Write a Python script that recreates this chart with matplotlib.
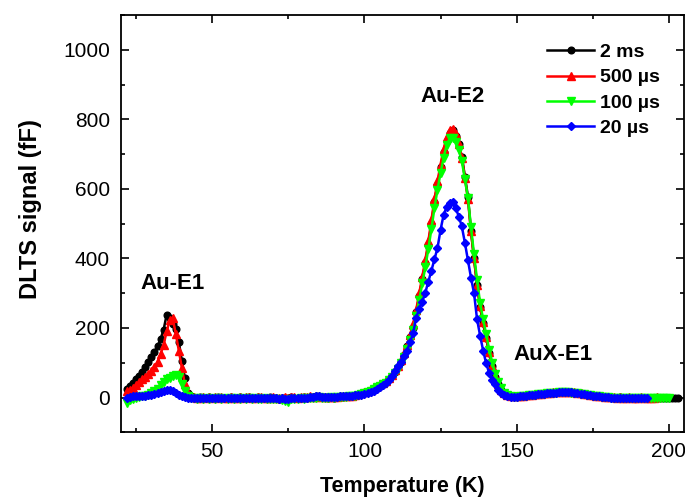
import matplotlib
matplotlib.use("Agg")
import matplotlib.pyplot as plt
from matplotlib.ticker import MultipleLocator

plt.rcParams['font.family'] = ['Liberation Sans', 'DejaVu Sans']

# ---------------- data ----------------
temps = [22, 23, 24, 25, 26, 27, 28, 29,
         30, 31, 32, 33, 34, 35, 36, 37, 38, 39,
         40, 41, 42, 43, 44, 45, 46, 47, 48, 49,
         50, 51, 52, 53, 54, 55, 56, 57, 58, 59,
         60, 61, 62, 63, 64, 65, 66, 67, 68, 69,
         70, 71, 72, 73, 74, 75, 76, 77, 78, 79,
         80, 81, 82, 83, 84, 85, 86, 87, 88, 89,
         90, 91, 92, 93, 94, 95, 96, 97, 98, 99,
         100, 101, 102, 103, 104, 105, 106, 107, 108, 109,
         110, 111, 112, 113, 114, 115, 116, 117, 118, 119,
         120, 121, 122, 123, 124, 125, 126, 127, 128, 129,
         130, 131, 132, 133, 134, 135, 136, 137, 138, 139,
         140, 141, 142, 143, 144, 145, 146, 147, 148, 149,
         150, 151, 152, 153, 154, 155, 156, 157, 158, 159,
         160, 161, 162, 163, 164, 165, 166, 167, 168, 169,
         170, 171, 172, 173, 174, 175, 176, 177, 178, 179,
         180, 181, 182, 183, 184, 185, 186, 187, 188, 189,
         190, 191, 192, 193, 194, 195, 196, 197, 198, 199,
         200, 201, 202, 203]

sig_2ms = [25, 32, 42, 52, 62, 74, 87, 101,
           117, 132, 147, 168, 195, 238, 228, 212, 196, 160,
           105, 55, 14, 3, 0, -2, 1, 0, -1, 2,
           0, -1, 1, 0, -2, 0, 1, -1, 0, 1,
           -1, 0, 2, 0, -1, 1, 0, -2, 0, 1,
           0, -1, -3, -2, 0, -1, 1, 0, -1, 0,
           1, 0, 2, 1, 3, 2, 1, 2, 0, 1,
           0, 1, 2, 2, 3, 3, 4, 5, 8, 11,
           14, 17, 21, 26, 31, 36, 40, 45, 52, 62,
           74, 87, 102, 122, 148, 173, 200, 245, 293, 340,
           386, 440, 500, 563, 612, 662, 705, 738, 762, 768,
           752, 728, 693, 635, 578, 480, 400, 325, 260, 213,
           170, 128, 90, 60, 38, 21, 11, 6, 4, 3,
           3, 4, 5, 5, 6, 7, 8, 9, 10, 11,
           12, 13, 14, 15, 15, 16, 16, 16, 15, 14,
           13, 12, 10, 8, 7, 5, 4, 3, 2, 2,
           1, 1, 0, 0, 1, 0, -1, 0, 0, -1,
           0, 0, -1, 0, 0, -1, 0, 0, -1, 0,
           0, 0, -1, 0]

sig_500us = [18, 22, 28, 37, 45, 53, 60, 67,
             75, 88, 103, 125, 152, 190, 222, 228, 183, 135,
             85, 38, 12, 3, 1, 0, -1, 2, 0, 1,
             -1, 2, 0, 1, -1, 0, 2, 0, -1, 1,
             0, 2, 1, -1, 0, 1, 2, 0, -1, 0,
             1, 0, -2, -1, 1, 0, 2, 1, 0, 1,
             2, 1, 3, 2, 2, 3, 1, 2, 1, 2,
             1, 2, 3, 3, 4, 4, 5, 7, 9, 12,
             15, 19, 23, 28, 33, 38, 43, 48, 55, 65,
             78, 92, 108, 128, 152, 180, 210, 252, 300, 348,
             395, 450, 510, 570, 622, 670, 715, 748, 770, 772,
             758, 730, 690, 632, 570, 478, 400, 325, 262, 218,
             175, 130, 92, 62, 40, 22, 12, 6, 4, 3,
             4, 4, 5, 6, 7, 8, 9, 10, 11, 12,
             13, 14, 15, 16, 16, 17, 17, 16, 16, 15,
             14, 12, 11, 9, 7, 6, 4, 3, 3, 2,
             2, 1, 1, 0, 1, 0, 0, 1, 0, -1,
             0, 1, 0, 0, -1, 0, 1]

sig_100us = [-15, -8, -3, 0, 2, 3, 5, 8,
             12, 18, 25, 35, 44, 52, 57, 62, 66, 60,
             40, 18, 5, 0, -2, -3, -1, -4, -2, -3,
             -2, -4, -1, -3, -2, -5, -1, -3, -2, -4,
             -2, -3, -1, -4, -2, -3, -5, -2, -3, -4,
             -3, -5, -4, -6, -10, -12, -5, -3, -4, -2,
             -3, -1, -2, 0, -1, 1, 0, -1, 0, 1,
             0, 1, 1, 2, 2, 3, 4, 5, 7, 10,
             13, 16, 20, 24, 29, 33, 38, 43, 49, 58,
             70, 83, 98, 117, 140, 166, 195, 235, 280, 328,
             375, 428, 485, 545, 598, 645, 690, 725, 745, 746,
             735, 712, 680, 628, 575, 490, 412, 338, 272, 225,
             182, 138, 100, 68, 44, 26, 14, 7, 4, 2,
             2, 3, 4, 5, 6, 7, 8, 9, 10, 11,
             12, 13, 13, 14, 15, 15, 15, 15, 14, 13,
             12, 11, 9, 8, 6, 5, 4, 3, 2, 1,
             1, 0, 0, -1, 0, -1, -1, 0, -1, -2,
             -1, -1, 0, -1, -2, -1, -1, 0, -1, -1,
             -1]

sig_20us = [0, 2, 3, 4, 3, 4, 5, 6,
            8, 10, 13, 17, 20, 22, 23, 20, 14, 8,
            4, 2, 0, -1, 0, -2, -1, 0, -2, -1,
            0, -1, -2, 0, -1, -2, 0, -1, 0, -2,
            -1, 0, -2, -1, 0, -1, -2, -1, 0, -2,
            -1, -2, -3, -2, -4, -3, -2, -1, -2, -1,
            0, -1, 1, 2, 4, 3, 2, 1, 2, 1,
            2, 2, 3, 3, 4, 5, 5, 6, 7, 8,
            10, 13, 16, 20, 24, 29, 35, 42, 50, 63,
            77, 90, 103, 118, 135, 160, 185, 230, 255, 275,
            302, 333, 365, 398, 430, 482, 525, 548, 560, 562,
            545, 520, 492, 445, 395, 345, 300, 225, 178, 135,
            98, 70, 50, 38, 22, 12, 7, 4, 2, 1,
            2, 3, 4, 5, 6, 7, 8, 9, 10, 11,
            12, 13, 14, 14, 15, 15, 16, 15, 15, 14,
            13, 11, 10, 8, 6, 5, 4, 3, 2, 1,
            1, 0, 0, -1, 0, -1, -1, 0, -1, -1,
            0, -1, -1, 0]

series_labels = ["2 ms", "500 \u00b5s", "100 \u00b5s", "20 \u00b5s"]
peak_labels = ["Au-E1", "Au-E2", "AuX-E1"]
peak_pos = [(37.0, 328), (128.8, 867), (161.9, 124)]

# ---------------- figure ----------------
fig = plt.figure(figsize=(6.85, 4.97), dpi=100)
ax = fig.add_axes([121 / 685, 1 - 432.3 / 497, (684 - 121) / 685, (432.3 - 15) / 497])

styles = [
    dict(color="black", marker="o", ms=4.8),
    dict(color="red", marker="^", ms=5.6),
    dict(color=(0.0, 1.0, 0.0), marker="v", ms=5.6),
    dict(color="blue", marker="D", ms=4.4),
]
all_sig = [sig_2ms, sig_500us, sig_100us, sig_20us]
for sig, lab, st in zip(all_sig, series_labels, styles):
    ax.plot(temps[:len(sig)], sig, label=lab, lw=1.8,
            color=st["color"], marker=st["marker"], ms=st["ms"],
            mec=st["color"], mfc=st["color"])

ax.set_xlim(20, 205)
ax.set_ylim(-100, 1100)
ax.xaxis.set_major_locator(MultipleLocator(50))
ax.xaxis.set_minor_locator(MultipleLocator(25))
ax.yaxis.set_major_locator(MultipleLocator(200))
ax.yaxis.set_minor_locator(MultipleLocator(100))
ax.tick_params(which="both", direction="in", top=True, right=True, width=1.2)
ax.tick_params(which="major", length=6, labelsize=15, pad=8)
ax.tick_params(which="minor", length=3)
ax.tick_params(axis="x", which="major", pad=7)
for s in ax.spines.values():
    s.set_linewidth(1.3)

ax.set_xlabel("Temperature (K)", fontsize=15.5, fontweight="bold", labelpad=11)
ax.set_ylabel("DLTS signal (fF)", fontsize=17, fontweight="bold")
ax.yaxis.set_label_coords(-0.14, 0.535)

for txt, (x, y) in zip(peak_labels, peak_pos):
    ax.text(x, y, txt, fontsize=16, fontweight="bold", ha="center", va="center")

leg = ax.legend(loc="upper left", bbox_to_anchor=(0.757, 0.932), frameon=False,
                prop={"weight": "bold", "size": 14},
                handlelength=2.4, handletextpad=0.3, labelspacing=0.4,
                borderpad=0, borderaxespad=0, numpoints=1)

fig.savefig("out.png", dpi=100)
